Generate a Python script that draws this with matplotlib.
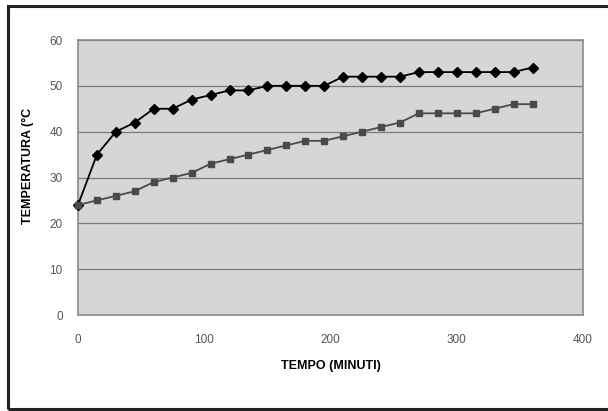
import matplotlib
matplotlib.use("Agg")
import matplotlib.pyplot as plt
from matplotlib.patches import Rectangle

plt.rcParams['font.family'] = ['Liberation Sans', 'DejaVu Sans']

# tempo in minuti
tempo = [0, 15, 30, 45, 60, 75, 90, 105, 120, 135, 150, 165, 180, 195,
         210, 225, 240, 255, 270, 285, 300, 315, 330, 345, 360]

# serie superiore (rombi)
temp_alta = [24, 35, 40, 42, 45, 45, 47, 48, 49, 49, 50, 50, 50, 50,
             52, 52, 52, 52, 53, 53, 53, 53, 53, 53, 54]

# serie inferiore (quadrati)
temp_bassa = [24, 25, 26, 27, 29, 30, 31, 33, 34, 35, 36, 37, 38, 38,
              39, 40, 41, 42, 44, 44, 44, 44, 45, 46, 46]

x_ticks = [0, 100, 200, 300, 400]
y_ticks = [0, 10, 20, 30, 40, 50, 60]

fig = plt.figure(figsize=(6.08, 4.11), dpi=100)
fig.patch.set_facecolor("white")
W, H = 608, 411
ax = fig.add_axes([78 / W, 1 - 315 / H, (583 - 78) / W, (315 - 40) / H])
ax.set_facecolor("#d6d6d6")

ax.plot(tempo, temp_alta, color="black", linewidth=1.3, marker="D",
        markersize=5, zorder=3, clip_on=False)
ax.plot(tempo, temp_bassa, color="#4a4a4a", linewidth=1.3, marker="s",
        markersize=4.5, zorder=3, clip_on=False)

ax.set_xlim(0, 400)
ax.set_ylim(0, 60)
ax.set_xticks(x_ticks)
ax.set_yticks(y_ticks)
ax.tick_params(length=0, labelsize=8.5, labelcolor="#555555")
ax.tick_params(axis="x", pad=14)
ax.tick_params(axis="y", pad=11)
ax.grid(axis="y", color="#7a7a7a", linewidth=0.9)
ax.set_axisbelow(True)
for s in ax.spines.values():
    s.set_color("#8a8a8a")
    s.set_linewidth(1.2)

ax.set_xlabel("TEMPO (MINUTI)", fontsize=9, fontweight="bold", labelpad=10)
fig.text(28 / W, 1 - 166 / H, "TEMPERATURA (°C", rotation=90, fontsize=9,
         fontweight="bold", ha="center", va="center")

# cornice esterna
fig.patches.append(Rectangle((8 / W, 1 - 409 / H), 700 / W, (409 - 6) / H,
                             transform=fig.transFigure, fill=False,
                             edgecolor="#222222", linewidth=2.2))

fig.savefig("out.png", dpi=100)
